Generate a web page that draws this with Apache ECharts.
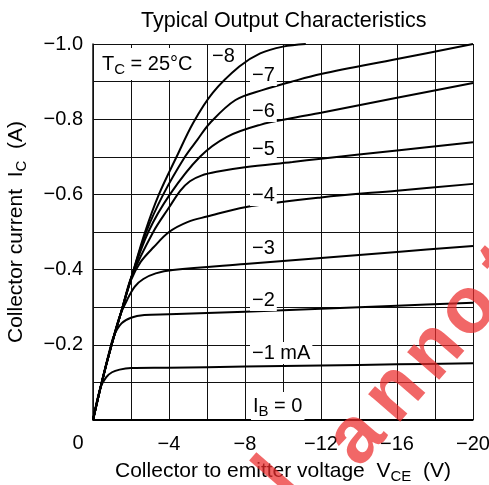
<!DOCTYPE html>
<html>
<head>
<meta charset="utf-8">
<script src="https://cdn.jsdelivr.net/npm/echarts@6/dist/echarts.min.js"></script>
<style>
  html, body { margin: 0; padding: 0; background: #fff; }
  #main { width: 489px; height: 485px; }
</style>
</head>
<body>
<div id="main"></div>
<script>
// base current IB (mA) -> [VCE (V), IC (A)]
var ib0 = [[0, 0], [-20, 0]];
var ib1 = [[0, 0], [-0.4, -0.087], [-0.7, -0.114], [-1.0, -0.127], [-1.4, -0.134], [-2, -0.138], [-4, -0.139], [-8, -0.142], [-12, -0.145], [-16, -0.148], [-20, -0.151]];
var ib2 = [[0, 0], [-0.45, -0.098], [-0.85, -0.18], [-1.1, -0.224], [-1.5, -0.257], [-2, -0.272], [-2.7, -0.279], [-4, -0.281], [-8, -0.288], [-12, -0.296], [-16, -0.304], [-20, -0.312]];
var ib3 = [[0, 0], [-0.45, -0.098], [-0.96, -0.197], [-1.4, -0.275], [-1.8, -0.32], [-2.2, -0.355], [-2.65, -0.375], [-3.3, -0.39], [-4.2, -0.399], [-8, -0.415], [-12, -0.431], [-16, -0.447], [-20, -0.463]];
var ib4 = [[0, 0], [-0.45, -0.098], [-0.96, -0.197], [-1.5, -0.29], [-2.0, -0.372], [-2.5, -0.42], [-3.2, -0.46], [-4.0, -0.5], [-5.0, -0.527], [-6, -0.541], [-8, -0.566], [-12, -0.592], [-16, -0.61], [-20, -0.628]];
var ib5 = [[0, 0], [-0.45, -0.098], [-0.96, -0.197], [-1.5, -0.29], [-2.03, -0.381], [-3.17, -0.5], [-4, -0.565], [-4.6, -0.61], [-5.1, -0.635], [-5.7, -0.65], [-6.5, -0.66], [-8, -0.672], [-10.5, -0.686], [-12, -0.695], [-16, -0.717], [-20, -0.739]];
var ib6 = [[0, 0], [-0.45, -0.098], [-0.96, -0.197], [-1.5, -0.29], [-2.03, -0.381], [-2.91, -0.5], [-4.05, -0.6], [-5.63, -0.7], [-7.05, -0.753], [-8.8, -0.785], [-10.5, -0.803], [-12, -0.817], [-16, -0.857], [-20, -0.896]];
var ib7 = [[0, 0], [-0.45, -0.098], [-0.96, -0.197], [-1.5, -0.29], [-2.03, -0.381], [-2.8, -0.5], [-3.7, -0.6], [-4.84, -0.7], [-5.49, -0.745], [-6.16, -0.79], [-7.5, -0.851], [-8.95, -0.878], [-10.4, -0.899], [-12, -0.92], [-16, -0.96], [-20, -1.0]];
var ib8 = [[0, 0], [-0.45, -0.098], [-0.96, -0.197], [-1.5, -0.29], [-2.03, -0.381], [-2.74, -0.5], [-3.47, -0.6], [-4.4, -0.7], [-5.27, -0.79], [-6.3, -0.87], [-7.7, -0.94], [-8.8, -0.975], [-10, -0.993], [-11.2, -1.0]];

var curves = [ib0, ib1, ib2, ib3, ib4, ib5, ib6, ib7, ib8];
var curveNames = ['0', '-1', '-2', '-3', '-4', '-5', '-6', '-7', '-8'];

var FONT = '"Liberation Sans", Arial, Helvetica, sans-serif';
var myChart = echarts.init(document.getElementById('main'));

function minus(v, digits) {
    if (Math.abs(v) < 1e-9) return '';
    return '\u2212' + Math.abs(v).toFixed(digits);
}

// label next to each curve (white box covers the grid)
function curveLabel(txt, x, y) {
    return {
        type: 'text', x: x, y: y, z: 10,
        style: {
            text: txt, font: '20px ' + FONT, fill: '#000',
            textVerticalAlign: 'middle', backgroundColor: '#fff', padding: [1, 2]
        }
    };
}

function mark(ch, x, y) {
    return {
        type: 'text', x: x, y: y, z: 20, rotation: 49 * Math.PI / 180,
        style: {
            text: ch, font: 'bold 80px ' + FONT, fill: 'rgba(236,45,45,0.72)',
            textAlign: 'center', textVerticalAlign: 'middle'
        }
    };
}

var series = [];
for (var i = 0; i < curves.length; i++) {
    series.push({
        name: curveNames[i],
        type: 'line',
        data: curves[i],
        showSymbol: false,
        smooth: 0.35,
        lineStyle: { color: '#000', width: 2 },
        itemStyle: { color: '#000' },
        z: 3
    });
}

var gridLine = { color: '#111', width: 1 };
var subRich = {
    a: { fontFamily: FONT, fontSize: 21, color: '#000', lineHeight: 26 },
    s: { fontFamily: FONT, fontSize: 15, color: '#000', lineHeight: 14, verticalAlign: 'bottom' }
};

var option = {
    animation: false,
    backgroundColor: '#fff',
    title: {
        text: 'Typical Output Characteristics',
        left: 136, top: 5,
        textStyle: { fontFamily: FONT, fontSize: 21.5, fontWeight: 'normal', color: '#000' }
    },
    grid: { left: 93, right: 16, top: 44, bottom: 65, outerBoundsMode: 'none' },
    xAxis: {
        type: 'value', min: -20, max: 0, interval: 4, inverse: true,
        name: '{a|Collector to emitter voltage  V}{s|CE}{a|  (V)}',
        nameLocation: 'middle', nameGap: 38,
        nameTextStyle: { rich: subRich },
        axisLine: { lineStyle: { color: '#111', width: 1.5 } },
        axisTick: { show: false },
        axisLabel: {
            margin: 14, fontFamily: FONT, fontSize: 20, color: '#000',
            formatter: function (v) { return minus(v, 0); }
        },
        splitLine: { show: true, lineStyle: gridLine },
        minorTick: { show: false, splitNumber: 2 },
        minorSplitLine: { show: true, lineStyle: gridLine }
    },
    yAxis: {
        type: 'value', min: -1, max: 0, interval: 0.2, inverse: true,
        name: '{a|Collector current  I}{s|C}{a|  (A)}',
        nameLocation: 'middle', nameGap: 64,
        nameTextStyle: { rich: subRich },
        axisLine: { lineStyle: { color: '#111', width: 1.5 } },
        axisTick: { show: false },
        axisLabel: {
            margin: 10, fontFamily: FONT, fontSize: 20, color: '#000',
            formatter: function (v) { return minus(v, 1); }
        },
        splitLine: { show: true, lineStyle: gridLine },
        minorTick: { show: false, splitNumber: 2 },
        minorSplitLine: { show: true, lineStyle: gridLine }
    },
    graphic: [
        {
            type: 'text', x: 78, y: 443, z: 10,
            style: { text: '0', font: '20px ' + FONT, fill: '#000', textAlign: 'center', textVerticalAlign: 'middle' }
        },
        {
            type: 'text', x: 96, y: 64, z: 10,
            style: {
                text: '{a|T}{s|C}{a| = 25\u00b0C}',
                textVerticalAlign: 'middle', backgroundColor: '#fff', padding: [3, 6],
                rich: {
                    a: { font: '20px ' + FONT, fill: '#000', lineHeight: 26 },
                    s: { font: '15px ' + FONT, fill: '#000', lineHeight: 14, verticalAlign: 'bottom' }
                }
            }
        },
        curveLabel('\u22128', 210, 56),
        curveLabel('\u22127', 250, 75),
        curveLabel('\u22126', 250, 111),
        curveLabel('\u22125', 250, 149),
        curveLabel('\u22124', 250, 195),
        curveLabel('\u22123', 250, 248),
        curveLabel('\u22122', 250, 300),
        curveLabel('\u22121 mA', 250, 353),
        {
            type: 'text', x: 251, y: 406, z: 10,
            style: {
                text: '{a|I}{s|B}{a| = 0}',
                textVerticalAlign: 'middle', backgroundColor: '#fff', padding: [1, 2],
                rich: {
                    a: { font: '20px ' + FONT, fill: '#000', lineHeight: 26 },
                    s: { font: '15px ' + FONT, fill: '#000', lineHeight: 14, verticalAlign: 'bottom' }
                }
            }
        },
        // red watermark across the lower right
        mark('l', 280, 480),
        mark('a', 357, 438),
        mark('n', 396, 393),
        mark('n', 435, 351),
        mark('o', 469, 310),
        mark('t', 505, 268)
    ],
    series: series
};

myChart.setOption(option);
</script>
</body>
</html>
